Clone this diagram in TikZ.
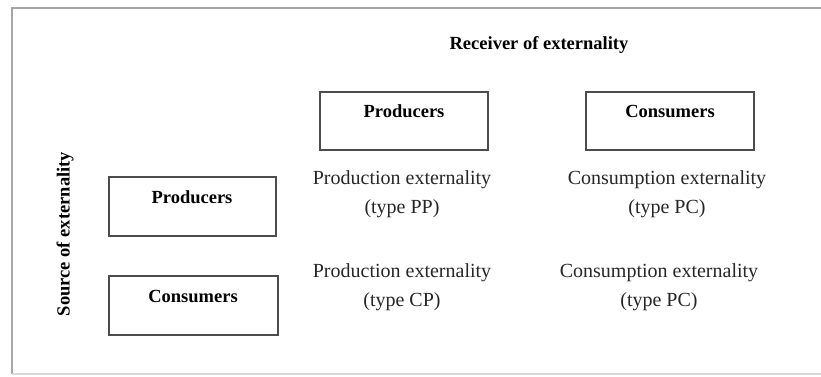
\documentclass[tikz,border=0pt]{standalone}
\usepackage{fontspec}
\setmainfont{Liberation Serif}
\begin{document}
\begin{tikzpicture}[x=1pt,y=-1pt,
  framebox/.style={draw=black!35,line width=2.5pt},
  catbox/.style={draw=black!70,line width=1.3pt},
  boxlabel/.style={font=\fontsize{18.5}{20}\selectfont\bfseries,inner sep=0pt},
  heading/.style={font=\fontsize{18.5}{20}\selectfont\bfseries,inner sep=0pt},
  celltext/.style={font=\fontsize{20}{29}\selectfont,align=center,inner sep=0pt,text=black!85}]
\useasboundingbox (0,0) rectangle (821,376);
\draw[framebox] (830,8) -- (12,8) -- (12,374);
\draw[draw=black!15,line width=1.5pt] (12,374) -- (830,374);
% headings
\node[heading] (recv) at (539,45) {Receiver of externality};
\node[heading,rotate=90] (src) at (65,234) {Source of externality};
% boxes
\draw[catbox] (320,92) rectangle (488,150);
\node[boxlabel] (rp) at (404,111) {Producers};
\draw[catbox] (586,92) rectangle (754,150);
\node[boxlabel] (rc) at (670,111) {Consumers};
\draw[catbox] (109,177) rectangle (276,236);
\node[boxlabel] (sp) at (192,197) {Producers};
\draw[catbox] (109,276) rectangle (278,335);
\node[boxlabel] (sc) at (193,296) {Consumers};
% cells
\node[celltext] (pp) at (402,194) {Production externality\\(type PP)};
\node[celltext] (pc1) at (667,194) {Consumption externality\\(type PC)};
\node[celltext] (cp) at (402,287) {Production externality\\(type CP)};
\node[celltext] (pc2) at (659,287) {Consumption externality\\(type PC)};
\end{tikzpicture}
\end{document}
